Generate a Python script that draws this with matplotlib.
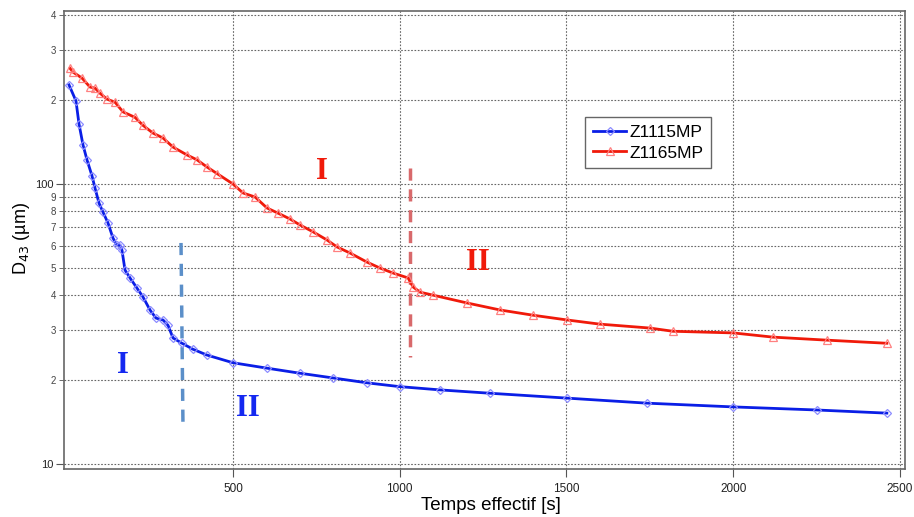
import matplotlib
matplotlib.use("Agg")
import matplotlib.pyplot as plt
from matplotlib.ticker import FixedLocator, FixedFormatter, NullFormatter

plt.rcParams["font.family"] = ["Liberation Sans", "DejaVu Sans"]

# Z1115MP (blue): temps effectif [s], D43 [um]
t_blue = [8, 29, 38, 50, 62, 77, 86, 98, 110, 125, 140, 152, 161, 167, 176, 191,
          212, 230, 251, 269, 290, 305, 320, 347, 380, 422, 500, 602, 701, 800,
          902, 1000, 1121, 1271, 1501, 1741, 2000, 2250, 2461]
d_blue = [226, 198, 164, 138, 122, 107, 96.8, 85.5, 79.4, 72.6, 64.1, 60.5, 60.5, 58,
          49.3, 46.2, 42.5, 39.5, 35.5, 33.2, 32.7, 31.3, 28.2, 27.0, 25.7, 24.5,
          23.0, 22.0, 21.1, 20.3, 19.5, 18.9, 18.4, 17.9, 17.2, 16.5, 16.0, 15.6, 15.2]

# Z1165MP (red)
t_red = [11, 20, 47, 71, 86, 101, 122, 146, 170, 206, 230, 260, 290, 320, 362, 392,
         422, 452, 500, 530, 566, 602, 635, 671, 701, 740, 782, 812, 851, 902, 941,
         980, 1025, 1040, 1061, 1100, 1202, 1301, 1400, 1502, 1600, 1750, 1819, 2000,
         2119, 2281, 2461]
d_red = [259, 251, 239, 222, 220, 211, 201, 196, 181, 173, 162, 152, 146, 135.5, 127,
         122, 115, 109, 100, 92.9, 89.9, 82.1, 78.7, 75.0, 71.4, 67.5, 63.1, 59.6, 56.7,
         52.6, 50.1, 48.1, 46.2, 42.9, 41.1, 40.1, 37.6, 35.5, 34.0, 32.7, 31.6, 30.6,
         29.8, 29.4, 28.4, 27.7, 27.0]

series_names = ["Z1115MP", "Z1165MP"]
y_major = [10, 100]
y_major_labels = ["10", "100"]
y_minor = [20, 30, 40, 50, 60, 70, 80, 90, 200, 300, 400]
y_minor_labels = ["2", "3", "4", "5", "6", "7", "8", "9", "2", "3", "4"]
x_ticks = [500, 1000, 1500, 2000, 2500]

fig = plt.figure(figsize=(9.14, 5.17), dpi=100)
ax = fig.add_axes([0.070, 0.0928, 0.920, 0.886])

ax.plot(t_blue, d_blue, color="#0a1ee6", lw=2, marker="D", ms=4.5, mfc="none",
        mec="#8c8cff", mew=0.9, label=series_names[0], zorder=3)
ax.plot(t_red, d_red, color="#f01a0a", lw=2, marker="^", ms=6, mfc="none",
        mec="#ff8080", mew=0.9, label=series_names[1], zorder=3)

ax.set_yscale("log")
ax.set_xlim(-7, 2515)
ax.set_ylim(9.6, 415)

ax.yaxis.set_major_locator(FixedLocator(y_major))
ax.yaxis.set_major_formatter(FixedFormatter(y_major_labels))
ax.yaxis.set_minor_locator(FixedLocator(y_minor))
ax.yaxis.set_minor_formatter(FixedFormatter(y_minor_labels))
ax.xaxis.set_major_locator(FixedLocator(x_ticks))
ax.xaxis.set_minor_formatter(NullFormatter())

ax.tick_params(axis="y", which="major", labelsize=8, length=6, color="#555555",
               pad=1.5, labelcolor="#222222")
ax.tick_params(axis="y", which="minor", labelsize=7, length=3.5, color="#555555",
               pad=2, labelcolor="#444444")
ax.tick_params(axis="x", which="major", labelsize=8.5, length=6, color="#555555",
               pad=4, labelcolor="#222222")

ax.grid(True, which="both", axis="y", ls=(0, (1.5, 1.5)), lw=0.8, color="#666666")
ax.grid(True, which="major", axis="x", ls=(0, (1.5, 1.5)), lw=0.8, color="#666666")
for s in ax.spines.values():
    s.set_color("#666666")
    s.set_linewidth(1.2)

# phase separators
ax.plot([344, 350], [61.6, 13.4], ls=(0, (3.5, 2.5)), lw=2.5, color="#5b8fc9", zorder=2)
ax.plot([1031, 1031], [114, 24.1], ls=(0, (3.5, 2.5)), lw=2.5, color="#d8696b", zorder=2)

lab = dict(fontsize=22, fontweight="bold", family="Liberation Serif", ha="center", va="center")
ax.text(170, 22.4, "I", color="#1428f0", **lab)
ax.text(545, 15.8, "II", color="#1428f0", **lab)
ax.text(767, 111, "I", color="#f01a0a", **lab)
ax.text(1235, 52.6, "II", color="#f01a0a", **lab)

fig.text(491 / 914, 1 - 505 / 517, "Temps effectif [s]", fontsize=13.5,
         ha="center", va="center")
fig.text(21 / 914, 1 - 239 / 517, "D$_{43}$ (µm)", fontsize=13, rotation=90,
         ha="center", va="center")

ax.legend(loc="upper left", bbox_to_anchor=(0.62, 0.768), borderaxespad=0,
          fancybox=False, edgecolor="#666666", fontsize=12.5, handlelength=1.9,
          numpoints=1, borderpad=0.45, labelspacing=0.3, handletextpad=0.2,
          framealpha=1)

fig.savefig("out.png", dpi=100)
